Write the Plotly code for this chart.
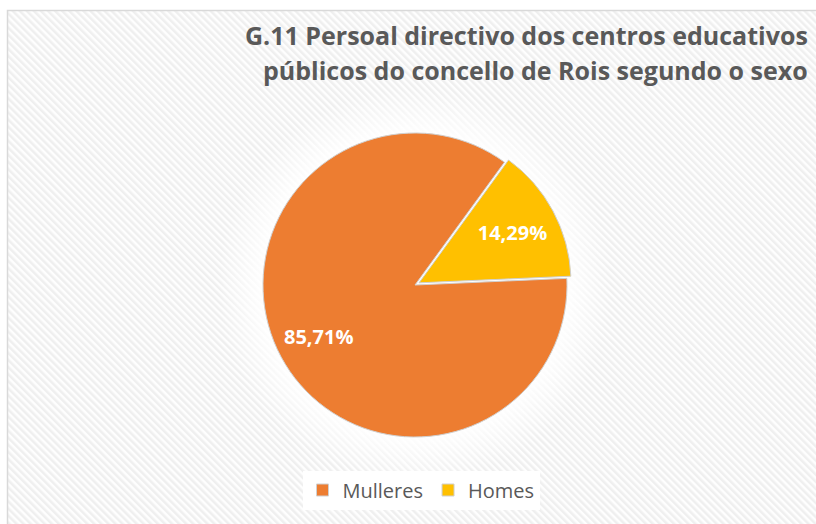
import base64
import math
import plotly.graph_objects as go

# ---- data ----
categories = ["Mulleres", "Homes"]
counts = [6, 1]
colors = ["#ED7D31", "#FFC000"]
title_lines = ["G.11 Persoal directivo dos centros educativos",
               "públicos do concello de Rois segundo o sexo"]

W, H = 816, 524
cx, cy, R = 415, 285, 152
pull_homes = 0.03
rotation = 87.5

# ---- background: diagonal hatching with white glow around the pie ----
svg = f'''<svg xmlns="http://www.w3.org/2000/svg" width="{W}" height="{H}" viewBox="0 0 {W} {H}">
<defs>
<pattern id="p" patternUnits="userSpaceOnUse" width="5" height="5" patternTransform="rotate(-45)">
<rect width="5" height="5" fill="#FEFEFE"/>
<rect width="2.5" height="5" fill="#EFEFEF"/>
</pattern>
<radialGradient id="g" cx="{cx}" cy="{cy}" r="{R+45}" gradientUnits="userSpaceOnUse">
<stop offset="0.75" stop-color="#FFFFFF" stop-opacity="1"/>
<stop offset="1" stop-color="#FFFFFF" stop-opacity="0"/>
</radialGradient>
</defs>
<rect width="{W}" height="{H}" fill="#FFFFFF"/>
<rect x="8" y="11" width="{W}" height="{H}" fill="url(#p)"/>
<rect width="{W}" height="{H}" fill="url(#g)"/>
</svg>'''
src = "data:image/svg+xml;base64," + base64.b64encode(svg.encode()).decode()

side = 2 * R * (1 + pull_homes)
dx = side / W / 2
dy = side / H / 2
xc = cx / W
yc = 1 - cy / H

total = sum(counts)
shares = [v / total for v in counts]

fig = go.Figure(go.Pie(
    labels=categories,
    values=counts,
    marker=dict(colors=colors, line=dict(color="#D0D0D0", width=1)),
    sort=False,
    direction="clockwise",
    rotation=rotation,
    pull=[0, pull_homes],
    texttemplate=["", "%{percent:.2%}"],
    textposition="inside",
    insidetextorientation="horizontal",
    textfont=dict(family="Open Sans", size=20, color="white", weight=700),
    domain=dict(x=[xc - dx, xc + dx], y=[yc - dy, yc + dy]),
    hoverinfo="skip",
))

# label for the large slice, placed along its mid-angle (derived from the data)
mid = math.radians(rotation + 180 * shares[0])
lx = cx + 0.72 * R * math.sin(mid)
ly = cy - 0.72 * R * math.cos(mid)
big_label = f"{shares[0]*100:.2f}".replace(".", ",") + "%"

annotations = [
    dict(text=title_lines[0], xref="paper", yref="paper", x=810 / W, y=1 - 35 / H,
         xanchor="right", yanchor="middle", showarrow=False,
         font=dict(family="Open Sans", size=25, color="#595959", weight=700)),
    dict(text=title_lines[1], xref="paper", yref="paper", x=810 / W, y=1 - 70 / H,
         xanchor="right", yanchor="middle", showarrow=False,
         font=dict(family="Open Sans", size=25, color="#595959", weight=700)),
    dict(text=big_label, xref="paper", yref="paper", x=lx / W, y=1 - ly / H,
         xanchor="center", yanchor="middle", showarrow=False,
         font=dict(family="Open Sans", size=20, color="white", weight=700)),
]

fig.update_layout(
    width=W, height=H,
    margin=dict(l=0, r=0, t=0, b=0),
    paper_bgcolor="white",
    separators=",.",
    showlegend=True,
    legend=dict(orientation="h", x=421 / W, xanchor="center", y=1 - 490 / H,
                yanchor="middle", bgcolor="white",
                font=dict(family="Open Sans", size=20, color="#595959"),
                itemwidth=30, traceorder="normal"),
    images=[dict(source=src, xref="paper", yref="paper", x=0, y=1, sizex=1, sizey=1,
                 xanchor="left", yanchor="top", sizing="stretch", layer="below")],
    shapes=[dict(type="rect", xref="paper", yref="paper",
                 x0=7.5 / W, x1=1.02, y0=-0.05, y1=1 - 10.5 / H,
                 line=dict(color="#D9D9D9", width=1.5), fillcolor="rgba(0,0,0,0)")],
    annotations=annotations,
)

fig.write_html("out.html",
               config={"displayModeBar": False},
               post_script="document.body.style.margin='0';document.body.style.overflow='hidden';")
